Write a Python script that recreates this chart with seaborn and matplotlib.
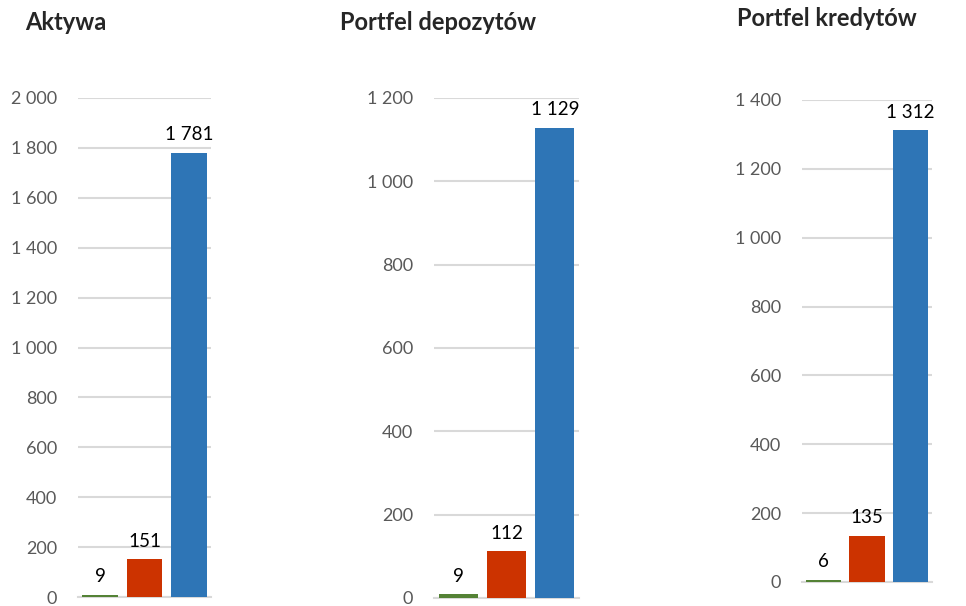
import matplotlib
matplotlib.use("Agg")
import matplotlib.pyplot as plt
import seaborn as sns
from matplotlib.ticker import FuncFormatter, MultipleLocator

# Data
CATEGORIES = ["Grupa 1", "Grupa 2", "Grupa 3"]
TITLES = ["Aktywa", "Portfel depozytów", "Portfel kredytów"]
AKTYWA = [9, 151, 1781]
DEPOZYTY = [9, 112, 1129]
KREDYTY = [6, 135, 1312]
Y_MAX = [2000, 1200, 1400]
COLORS = ["#548235", "#CC3300", "#2E75B6"]

sns.set_style("white")
plt.rcParams["font.family"] = ["Lato", "DejaVu Sans"]

GRID_COLOR = "#D9D9D9"
TICK_COLOR = "#595959"


def space_thousands(v, pos=None):
    return f"{v:,.0f}".replace(",", " ")


fig = plt.figure(figsize=(9.66, 6.06), dpi=100)
W, H = 966, 606

# axes boxes in pixels: left, right, top, bottom
boxes = [(78, 211, 98, 597), (434, 579, 98, 598), (802, 932, 100, 582)]
title_pos = [(25, 22), (340, 22), (737, 18)]

for values, title, ymax, box, tpos in zip(
        [AKTYWA, DEPOZYTY, KREDYTY], TITLES, Y_MAX, boxes, title_pos):
    l, r, t, b = box
    ax = fig.add_axes([l / W, 1 - b / H, (r - l) / W, (b - t) / H])
    sns.barplot(x=CATEGORIES, y=values, hue=CATEGORIES, palette=COLORS,
                legend=False, width=0.81, saturation=1, linewidth=0, ax=ax)
    for bar in ax.patches:
        bar.set_zorder(3)
    ax.set_ylim(0, ymax)
    ax.yaxis.set_major_locator(MultipleLocator(200))
    ax.yaxis.set_major_formatter(FuncFormatter(space_thousands))
    ax.grid(axis="y", color=GRID_COLOR, linewidth=1.5)
    ax.set_axisbelow(True)
    for side in ["left", "right", "top"]:
        ax.spines[side].set_visible(False)
    ax.spines["bottom"].set_color(GRID_COLOR)
    ax.spines["bottom"].set_linewidth(1.5)
    ax.spines["bottom"].set_zorder(1)
    ax.set_xticks([])
    ax.set_xlabel("")
    ax.set_ylabel("")
    ax.tick_params(axis="y", length=0, pad=15, labelsize=13, labelcolor=TICK_COLOR)

    for i, v in enumerate(values):
        ax.annotate(space_thousands(v), (i, v), xytext=(0, 7),
                    textcoords="offset points", ha="center", va="bottom",
                    fontsize=13.5, color="black")

    fig.text(tpos[0] / W, 1 - tpos[1] / H, title, fontsize=17,
             fontweight="bold", ha="left", va="center")

fig.savefig("out.png", dpi=100)
